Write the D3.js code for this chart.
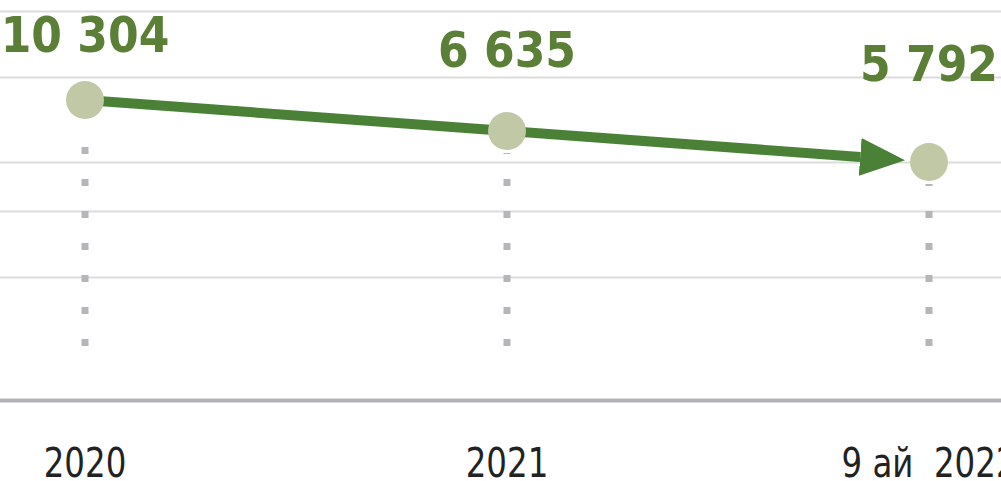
<!DOCTYPE html>
<html>
<head>
<meta charset="utf-8">
<script src="https://cdn.jsdelivr.net/npm/d3@7"></script>
<style>
  body { margin: 0; background: #fff; }
</style>
</head>
<body>
<div id="chart"></div>
<script>
// data
var periods = ["2020", "2021", "9 ай  2022"];
var values = [10304, 6635, 5792];
// light gridlines, as share of the plot height above the baseline
var gridLevels = [0.972, 0.807, 0.595, 0.472, 0.307];

var width = 1001, height = 481;
var baseY = 400;     // grey baseline
var r = 19;          // dot radius

var svg = d3.select("#chart")
    .append("svg")
    .attr("width", width)
    .attr("height", height);

var x = d3.scalePoint()
    .domain(periods)
    .range([85, 929]);

// dots step down in order of the periods
var yDot = d3.scalePoint()
    .domain(periods)
    .range([100, 162]);

var yLabel = d3.scalePoint()
    .domain(periods)
    .range([52, 81]);

var yGrid = d3.scaleLinear()
    .domain([0, 1])
    .range([baseY, 0]);

var fmt = d3.formatLocale({decimal: ",", thousands: " ", grouping: [3], currency: ["", ""]}).format(",d");

// gridlines
svg.append("g")
    .selectAll("line")
    .data(gridLevels)
    .enter().append("line")
    .attr("x1", 0)
    .attr("x2", width)
    .attr("y1", function(d){ return Math.round(yGrid(d)) + 0.5; })
    .attr("y2", function(d){ return Math.round(yGrid(d)) + 0.5; })
    .attr("stroke", "#dcdcdc")
    .attr("stroke-width", 2);

// baseline
svg.append("line")
    .attr("x1", 0)
    .attr("x2", width)
    .attr("y1", baseY + 0.5)
    .attr("y2", baseY + 0.5)
    .attr("stroke", "#b3b3b7")
    .attr("stroke-width", 4);

// dotted drop lines, drawn from the bottom up so the dashes line up
var dropBottom = 346;
svg.append("g")
    .selectAll("line")
    .data(periods)
    .enter().append("line")
    .attr("x1", function(d){ return x(d); })
    .attr("x2", function(d){ return x(d); })
    .attr("y1", dropBottom)
    .attr("y2", function(d){ return yDot(d) + r + 3; })
    .attr("stroke", "#b5b5ba")
    .attr("stroke-width", 7)
    .attr("stroke-dasharray", "7,25");

// arrow head
var headLen = 45, headW = 38, gap = 5;
svg.append("defs").append("marker")
    .attr("id", "arrow")
    .attr("viewBox", "0 0 " + headLen + " " + headW)
    .attr("refX", 0)
    .attr("refY", headW / 2)
    .attr("markerWidth", headLen)
    .attr("markerHeight", headW)
    .attr("markerUnits", "userSpaceOnUse")
    .attr("orient", "auto")
    .append("path")
    .attr("d", "M0,0L" + headLen + "," + (headW / 2) + "L0," + headW + "Z")
    .attr("fill", "#4b8137");

// line points: dot centres, last one pulled back so the arrow stops before the dot
var pts = periods.map(function(p){ return [x(p), yDot(p)]; });
var n = pts.length;
var a = pts[n - 2], b = pts[n - 1];
var dx = b[0] - a[0], dy = b[1] - a[1];
var len = Math.sqrt(dx * dx + dy * dy);
var back = r + gap + headLen;
pts[n - 1] = [b[0] - dx / len * back, b[1] - dy / len * back];

svg.append("path")
    .attr("d", d3.line()(pts))
    .attr("fill", "none")
    .attr("stroke", "#4b8137")
    .attr("stroke-width", 10)
    .attr("stroke-linejoin", "round")
    .attr("marker-end", "url(#arrow)");

// dots
svg.append("g")
    .selectAll("circle")
    .data(periods)
    .enter().append("circle")
    .attr("cx", function(d){ return x(d); })
    .attr("cy", function(d){ return yDot(d); })
    .attr("r", r)
    .attr("fill", "#c1c8a6");

// value labels
svg.append("g")
    .selectAll("text")
    .data(periods)
    .enter().append("text")
    .attr("x", function(d){ return x(d); })
    .attr("y", function(d){ return yLabel(d); })
    .attr("text-anchor", "middle")
    .style("font-family", "'DejaVu Sans Condensed', 'DejaVu Sans', sans-serif")
    .style("font-stretch", "condensed")
    .style("font-weight", "bold")
    .style("font-size", "49px")
    .style("fill", "#5b7f36")
    .text(function(d, i){ return fmt(values[i]); });

// period labels, squeezed a little to match the narrow face of the original
svg.append("g")
    .selectAll("text")
    .data(periods)
    .enter().append("text")
    .attr("transform", function(d){ return "translate(" + x(d) + ",477) scale(0.88,1)"; })
    .attr("text-anchor", "middle")
    .style("white-space", "pre")
    .style("font-family", "'DejaVu Sans Condensed', 'DejaVu Sans', sans-serif")
    .style("font-stretch", "condensed")
    .style("font-size", "41px")
    .style("fill", "#222")
    .text(function(d){ return d; });
</script>
</body>
</html>
